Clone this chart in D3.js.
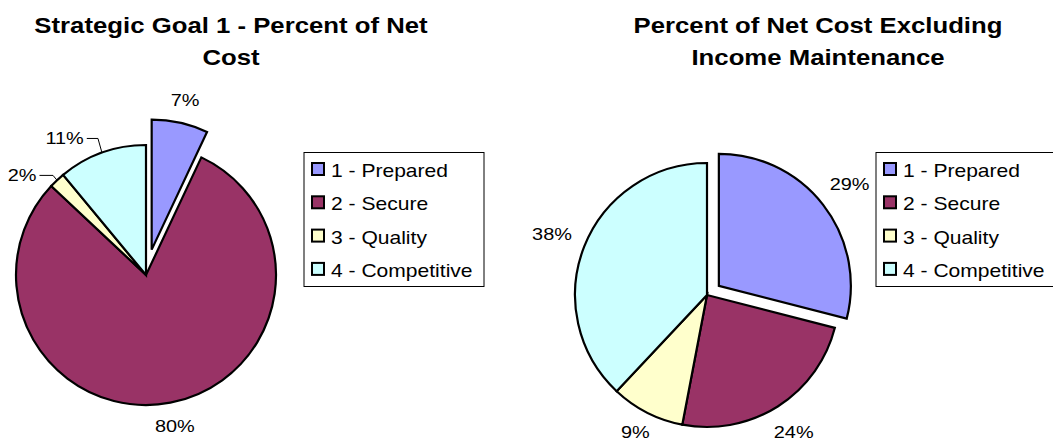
<!DOCTYPE html>
<html>
<head>
<meta charset="utf-8">
<script src="https://cdn.jsdelivr.net/npm/d3@7"></script>
<style>
  body { margin: 0; background: #fff; }
  svg { display: block; font-family: Arial, "Liberation Sans", sans-serif; }
</style>
</head>
<body>
<script>
// data
const categories = ["1 - Prepared", "2 - Secure", "3 - Quality", "4 - Competitive"];
const colours = ["#9999ff", "#993366", "#ffffcc", "#ccffff"];
const goalShares = [7, 80, 2, 11];
const exclShares = [29, 24, 9, 38];
const goalTitle = ["Strategic Goal 1 - Percent of Net", "Cost"];
const exclTitle = ["Percent of Net Cost Excluding", "Income Maintenance"];

const width = 1053, height = 441;
const stretch = 1.17; // text in the picture is drawn wide

const svg = d3.select('body')
    .append('svg')
    .attr('width', width)
    .attr('height', height);

function addText(parent, x, y, str, size, weight, anchor) {
    return parent.append('text')
        .attr('transform', `translate(${x}, ${y}) scale(${stretch}, 1)`)
        .attr('text-anchor', anchor || 'middle')
        .attr('font-size', size)
        .attr('font-weight', weight || 'normal')
        .attr('fill', '#000')
        .text(str);
}

function drawPie(opt) {
    const g = svg.append('g')
        .attr('transform', `translate(${opt.cx}, ${opt.cy})`);
    const arcs = d3.pie().sort(null).value(d => d)(opt.values);
    const arc = d3.arc().innerRadius(0).outerRadius(opt.r);

    arcs.forEach((a, i) => {
        const mid = (a.startAngle + a.endAngle) / 2;
        const off = i === opt.explode ? opt.explodeBy : 0;
        const ox = off * Math.sin(mid), oy = -off * Math.cos(mid);
        g.append('path')
            .attr('d', arc(a))
            .attr('transform', `translate(${ox}, ${oy})`)
            .attr('fill', colours[i])
            .attr('stroke', '#000')
            .attr('stroke-width', 2.2)
            .attr('stroke-linejoin', 'miter');

        // label outside the slice
        const nudge = (opt.nudge[i] || 0) * Math.PI / 180;
        const ang = mid + nudge;
        const t = addText(g, 0, 0, a.data + '%', 17);
        const w = t.node().getComputedTextLength() * stretch;
        const h = 12;
        const dist = opt.r + 14 + Math.abs(Math.sin(ang)) * w / 2 + Math.abs(Math.cos(ang)) * h / 2;
        const lx = ox + dist * Math.sin(ang);
        // keep the label inside the picture
        const ly = Math.min(oy - dist * Math.cos(ang), height - opt.cy - 3 - h / 2);
        t.attr('transform', `translate(${lx}, ${ly + h / 2}) scale(${stretch}, 1)`);

        if (nudge) {
            const ex = opt.r * Math.sin(mid), ey = -opt.r * Math.cos(mid);
            g.append('polyline')
                .attr('points', [[lx + w / 2 + 3, ly], [ex - 4, ly], [ex, ey]].map(p => p.join(',')).join(' '))
                .attr('fill', 'none')
                .attr('stroke', '#000')
                .attr('stroke-width', 1);
        }
    });

    opt.title.forEach((line, k) => {
        addText(svg, opt.titleX, 33 + k * 32, line, 22, 'bold');
    });

    // legend
    const lg = svg.append('g')
        .attr('transform', `translate(${opt.legendX}, 152.5)`);
    lg.append('rect')
        .attr('width', 180)
        .attr('height', 134)
        .attr('fill', '#fff')
        .attr('stroke', '#000')
        .attr('stroke-width', 1);
    categories.forEach((c, i) => {
        const y = 24.5 + i * 33.3;
        lg.append('rect')
            .attr('x', 8)
            .attr('y', y - 14)
            .attr('width', 12)
            .attr('height', 12)
            .attr('fill', colours[i])
            .attr('stroke', '#000')
            .attr('stroke-width', 2);
        addText(lg, 27, y, c, 18, 'normal', 'start');
    });
}

drawPie({
    values: goalShares, title: goalTitle,
    cx: 146, cy: 275, r: 130, explode: 0, explodeBy: 26,
    nudge: {2: -8, 3: -11},
    titleX: 231, legendX: 304
});

drawPie({
    values: exclShares, title: exclTitle,
    cx: 707, cy: 295, r: 132, explode: 0, explodeBy: 15,
    nudge: {},
    titleX: 818, legendX: 876
});
</script>
</body>
</html>
